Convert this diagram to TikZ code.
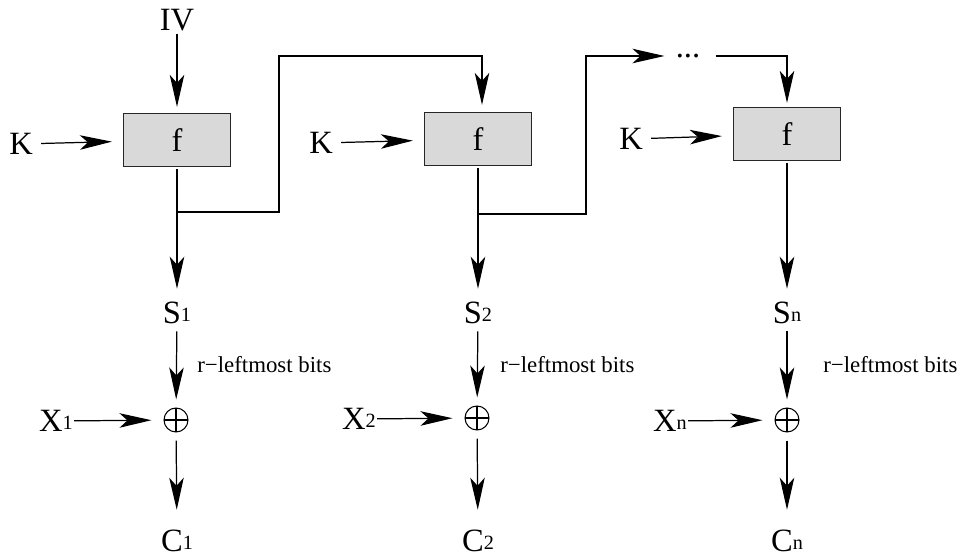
\documentclass[tikz,border=0pt]{standalone}
\usepackage{fontspec}
\setmainfont{Liberation Serif}
\usepackage{tikz}
\usetikzlibrary{arrows.meta, positioning}
\newcommand{\subidx}[1]{\raisebox{1pt}{\fontsize{11.5}{12}\selectfont #1}}

\begin{document}
\begin{tikzpicture}[
  x=0.02cm, y=-0.02cm,
  every node/.style={font=\fontsize{18.5}{20}\selectfont, inner sep=0pt},
  fbox/.style={
    rectangle, draw=black!85, fill=black!15, line width=0.7pt,
    minimum width=2.14cm, minimum height=1.06cm
  },
  xorop/.style={
    circle, draw, line width=0.6pt, minimum size=0.48cm,
    path picture={\draw[line width=0.6pt]
      (path picture bounding box.north) -- (path picture bounding box.south)
      (path picture bounding box.west) -- (path picture bounding box.east);}
  },
  arr/.style={-{Stealth[length=6.4mm, width=2.9mm, inset=1.6mm]}, line width=0.7pt},
  bitsLabel/.style={font=\fontsize{13}{15}\selectfont, anchor=west}
]
\useasboundingbox (0,0) rectangle (962,560);

% --- f boxes and key inputs ---
\node[fbox] (fa) at (177,140) {f};
\node[fbox] (fb) at (478,139) {f};
\node[fbox] (fc) at (787,134) {f};

\node (iv) at (177,20) {IV};
\node (ka) at (21,144) {K};
\node (kb) at (321,143) {K};
\node (kc) at (631,139) {K};

% --- outputs S ---
\node (sa) at (177,313) {S\subidx{1}};
\node (sb) at (478,313) {S\subidx{2}};
\node (sc) at (787,313) {S\subidx{n}};

\node[bitsLabel] (ba) at (197,365) {r−leftmost bits};
\node[bitsLabel] (bb) at (500,365) {r−leftmost bits};
\node[bitsLabel] (bc) at (823,365) {r−leftmost bits};

% --- xor with plaintext ---
\node[xorop] (xa) at (176,420) {};
\node[xorop] (xb) at (477,418) {};
\node[xorop] (xc) at (787,420) {};

\node (pa) at (56,421) {X\subidx{1}};
\node (pb) at (359,419) {X\subidx{2}};
\node (pc) at (670,421) {X\subidx{n}};

\node (ca) at (177,541) {C\subidx{1}};
\node (cb) at (478,541) {C\subidx{2}};
\node (cc) at (787,541) {C\subidx{n}};

\node (dots) at (688,56) {...};

% --- chaining between stages ---
\coordinate (ja) at (177,212);
\coordinate (jb) at (479,214);
\draw[arr, shorten >=0.14cm] (ja) -| (279,56) -| ([xshift=0.08cm]fb.north);
\draw[arr, shorten >=0.22cm] (jb) -| (586,56) -- (dots.west);
\draw[arr, shorten <=0.3cm, shorten >=0.08cm] (dots.east) -| (fc.north);

% --- flow arrows ---
\draw[arr, shorten <=0.06cm, shorten >=0.12cm] (iv) -- (fa);
\foreach \k/\f in {ka/fa, kb/fb, kc/fc}
  \draw[arr, shorten <=0.16cm, shorten >=0.22cm] (\k) -- (\f);
\foreach \f/\s in {fa/sa, fb/sb, fc/sc}
  \draw[arr, shorten <=0.04cm, shorten >=0.26cm] (\f) -- (\s);
\foreach \s/\x in {sa/xa, sb/xb, sc/xc}
  \draw[arr, shorten <=0.14cm, shorten >=0.16cm] (\s) -- (\x);
\foreach \p/\x in {pa/xa, pb/xb, pc/xc}
  \draw[arr, shorten <=0.02cm, shorten >=0.24cm] (\p) -- (\x);
\foreach \x/\c in {xa/ca, xb/cb, xc/cc}
  \draw[arr, shorten <=0.16cm, shorten >=0.4cm] (\x) -- (\c);

\end{tikzpicture}
\end{document}
